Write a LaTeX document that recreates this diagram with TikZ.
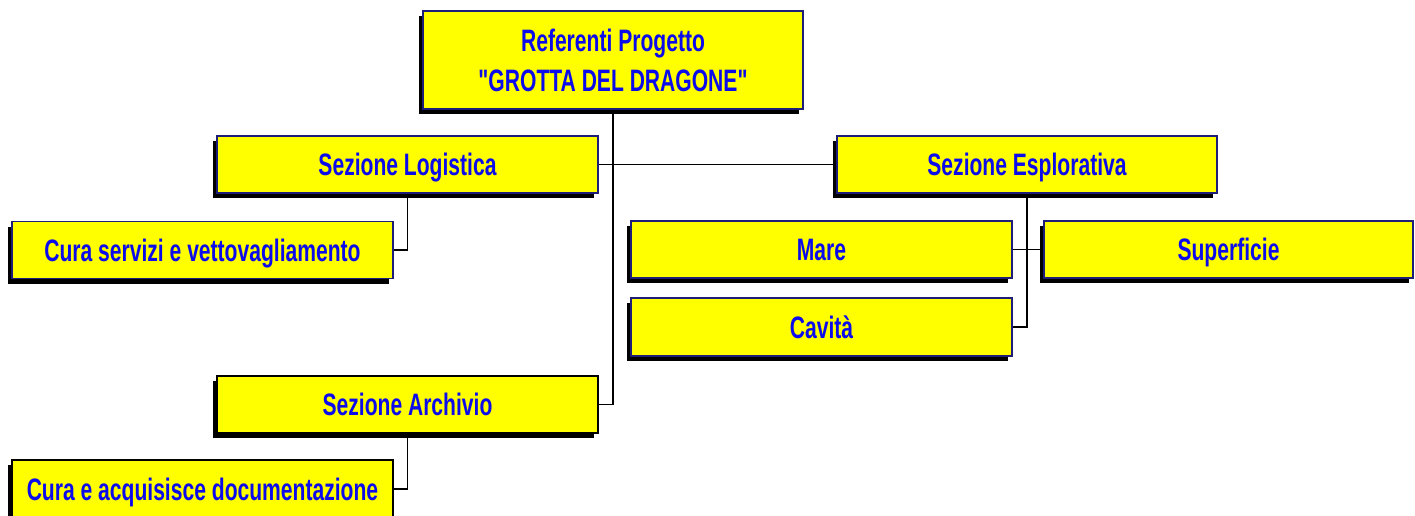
\documentclass[tikz,border=0pt]{standalone}
\usepackage{fontspec}
\setmainfont{Liberation Sans}[FakeStretch=0.68, Ligatures=TeXOff]
\usetikzlibrary{shadows}
\definecolor{boxyellow}{RGB}{255,255,0}
\definecolor{boxtext}{RGB}{12,12,235}
\definecolor{boxborder}{RGB}{30,30,120}
\tikzset{
  orgbox/.style={rectangle, draw=boxborder, line width=1.4pt, fill=boxyellow,
    text=boxtext, inner sep=0pt, font=\bfseries\fontsize{31}{40}\selectfont,
    general shadow={fill=black, shadow xshift=-4pt, shadow yshift=-5pt},
    minimum width=381pt, minimum height=57pt, align=center},
  oneline/.style={text height=22pt, text depth=0pt},
  blackbox/.style={orgbox, draw=black},
  link/.style={draw=black, line width=1.8pt}
}
\begin{document}
\begin{tikzpicture}[x=1pt, y=-1pt]
\useasboundingbox (0,0) rectangle (1415,516);
\clip (0,0) rectangle (1415,516);
\node[orgbox, minimum width=380pt, minimum height=98pt] (top) at (613,60) {Referenti Progetto\\"GROTTA DEL DRAGONE"};
\node[orgbox, oneline] (log) at (407.5,164.5) {Sezione Logistica};
\node[orgbox, oneline, minimum width=380pt] (esp) at (1027,164.5) {Sezione Esplorativa};
\node[orgbox, oneline] (cura1) at (202.5,250) {Cura servizi e vettovagliamento};
\node[orgbox, oneline] (mare) at (821.5,249.5) {Mare};
\node[orgbox, oneline, minimum height=58pt] (cav) at (821.5,327) {Cavità};
\node[orgbox, oneline, minimum width=369pt] (sup) at (1228.5,249.5) {Superficie};
\node[blackbox, oneline] (arc) at (407.5,404.5) {Sezione Archivio};
\node[blackbox, oneline, minimum height=58pt] (cura2) at (202.5,489) {Cura e acquisisce documentazione};
\draw[link] (top.south) |- (arc.east);
\draw[link] (log.east) -- (esp.west);
\draw[link] (log.south) |- (cura1.east);
\draw[link] (arc.south) |- (cura2.east);
\draw[link] (esp.south) |- (cav.east);
\draw[link] (mare.east) -- (sup.west);
\end{tikzpicture}
\end{document}
